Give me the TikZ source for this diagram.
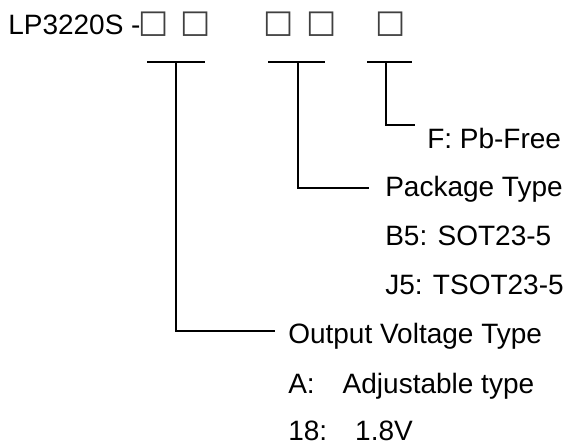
\documentclass[tikz,border=0pt]{standalone}
\usepackage{fontspec}
\setmainfont{Liberation Sans}
\newfontfamily\symfont{DejaVu Sans}
\tikzset{
  lbl/.style={anchor=base west, inner sep=0pt, font=\fontsize{21}{25}\selectfont},
  slot/.style={inner sep=0pt, font=\symfont\fontsize{24}{28}\selectfont, text=black!75},
  lead/.style={draw=black, line width=.9pt}
}
\begin{document}
\begin{tikzpicture}[x=.75pt,y=-.75pt]
  \useasboundingbox (0,0) rectangle (568,442);

  % part number with the five code slots
  \node[lbl] (part) at (8,35) {LP3220S -};
  \foreach \n/\x in {s1/154,s2/196,s3/279,s4/322,s5/391}
    \node[slot] (\n) at (\x,24.5) {□};

  % brackets under the slots
  \coordinate (b1l) at (147,62); \coordinate (b1r) at (205,62); \coordinate (t1) at (176,62);
  \coordinate (b2l) at (268,62); \coordinate (b2r) at (325,62); \coordinate (t2) at (298,62);
  \coordinate (b3l) at (367,62); \coordinate (b3r) at (412,62); \coordinate (t3) at (386,62);
  \draw[lead] (b1l) -- (b1r);
  \draw[lead] (b2l) -- (b2r);
  \draw[lead] (b3l) -- (b3r);

  % option texts
  \node[lbl] (pbfree) at (427,149) {F: Pb-Free};
  \node[lbl] (pkg) at (385,197) {Package Type};
  \node[lbl] (sot) at (385,246) {B5: SOT23-5};
  \node[lbl] (tsot) at (385,295) {J5: TSOT23-5};
  \node[lbl] (volt) at (288,344) {Output Voltage Type};
  \node[lbl] (adj) at (288,393) {A:\hspace{21pt}Adjustable type};
  \node[lbl] (v18) at (288,440) {18:\hspace{21pt}1.8V};

  % leaders from the brackets to the texts
  \coordinate (pbfree-in) at (415,125);
  \coordinate (pkg-in) at (369,188);
  \coordinate (volt-in) at (275,331);
  \draw[lead] (t3) |- (pbfree-in);
  \draw[lead] (t2) |- (pkg-in);
  \draw[lead] (t1) |- (volt-in);
\end{tikzpicture}
\end{document}
